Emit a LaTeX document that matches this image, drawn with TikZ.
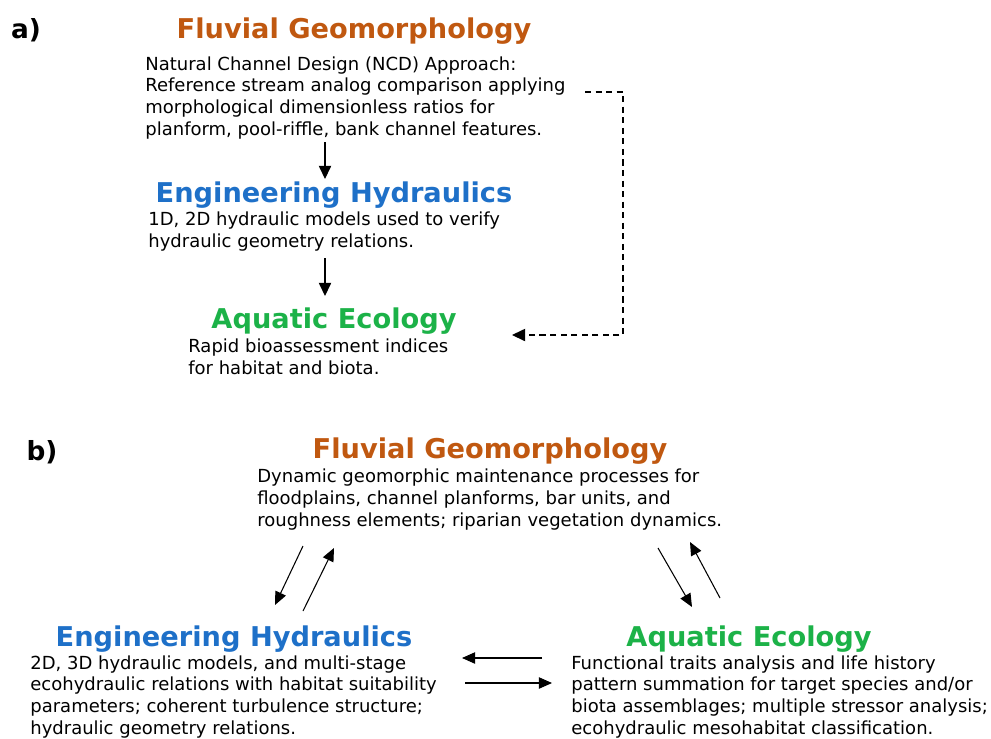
\documentclass[tikz,border=0pt]{standalone}
\usepackage{fontspec}
\setmainfont{DejaVu Sans}
\usetikzlibrary{arrows.meta}

\definecolor{geobrown}{RGB}{192,88,16}
\definecolor{hydblue}{RGB}{30,112,200}
\definecolor{ecogreen}{RGB}{28,178,72}

\tikzset{
  panel/.style={font=\bfseries\fontsize{15}{17}\selectfont, inner sep=0, anchor=base},
  heading/.style={font=\bfseries\fontsize{15.5}{18}\selectfont, inner sep=0, anchor=base},
  body/.style={font=\fontsize{10.25}{12.3}\selectfont, align=left, inner sep=0, anchor=base west},
  flow/.style={line width=0.7pt, -{Triangle[length=7.5pt,width=7pt]}},
  swap/.style={line width=0.6pt, -{Triangle[length=7.5pt,width=6.5pt]}},
}

\begin{document}
\begin{tikzpicture}[x=0.02cm, y=-0.02cm]
 \useasboundingbox (0,0) rectangle (991,738);

 % a) linear approach (body nodes placed at the baseline of their last line)
 \node[panel] (alabel) at (26,38) {a)};
 \node[heading, text=geobrown] (ageo) at (354,38) {Fluvial Geomorphology};
 \node[body] (ageotext) at (145,135) {Natural Channel Design (NCD) Approach:\\
  Reference stream analog comparison applying\\
  morphological dimensionless ratios for\\
  planform, pool-riffle, bank channel features.};
 \node[heading, text=hydblue] (ahyd) at (334,202) {Engineering Hydraulics};
 \node[body] (ahydtext) at (148,247) {1D, 2D hydraulic models used to verify\\
  hydraulic geometry relations.};
 \node[heading, text=ecogreen] (aeco) at (334,328) {Aquatic Ecology};
 \node[body] (aecotext) at (188,374) {Rapid bioassessment indices\\
  for habitat and biota.};

 \coordinate (ageoout) at (325,142);
 \coordinate (ahydin) at (325,179);
 \coordinate (ahydout) at (325,258);
 \coordinate (aecoin) at (325,296);
 \draw[flow] (ageoout) -- (ahydin);
 \draw[flow] (ahydout) -- (aecoin);

 \coordinate (askip) at (585,92);
 \coordinate (askipin) at (512,335);
 \draw[flow, dash pattern=on 3.5pt off 2.5pt] (askip) -| (623,335) -- (askipin);

 % b) integrated approach
 \node[panel] (blabel) at (42,460) {b)};
 \node[heading, text=geobrown] (bgeo) at (490,458) {Fluvial Geomorphology};
 \node[body] (bgeotext) at (257,526) {Dynamic geomorphic maintenance processes for\\
  floodplains, channel planforms, bar units, and\\
  roughness elements; riparian vegetation dynamics.};
 \node[heading, text=hydblue] (bhyd) at (234,646) {Engineering Hydraulics};
 \node[body] (bhydtext) at (30,734) {2D, 3D hydraulic models, and multi-stage\\
  ecohydraulic relations with habitat suitability\\
  parameters; coherent turbulence structure;\\
  hydraulic geometry relations.};
 \node[heading, text=ecogreen] (beco) at (749,646) {Aquatic Ecology};
 \node[body] (becotext) at (571,734) {Functional traits analysis and life history\\
  pattern summation for target species and/or\\
  biota assemblages; multiple stressor analysis;\\
  ecohydraulic mesohabitat classification.};

 \coordinate (gh1) at (303,546);
 \coordinate (gh2) at (275,605);
 \coordinate (hg1) at (303,611);
 \coordinate (hg2) at (334,548);
 \coordinate (ge1) at (658,548);
 \coordinate (ge2) at (692,607);
 \coordinate (eg1) at (720,598);
 \coordinate (eg2) at (690,542);
 \coordinate (eh1) at (542,658);
 \coordinate (eh2) at (462,658);
 \coordinate (he1) at (465,683);
 \coordinate (he2) at (552,683);
 \draw[swap] (gh1) -- (gh2);
 \draw[swap] (hg1) -- (hg2);
 \draw[swap] (ge1) -- (ge2);
 \draw[swap] (eg1) -- (eg2);
 \draw[swap] (eh1) -- (eh2);
 \draw[swap] (he1) -- (he2);
\end{tikzpicture}
\end{document}
